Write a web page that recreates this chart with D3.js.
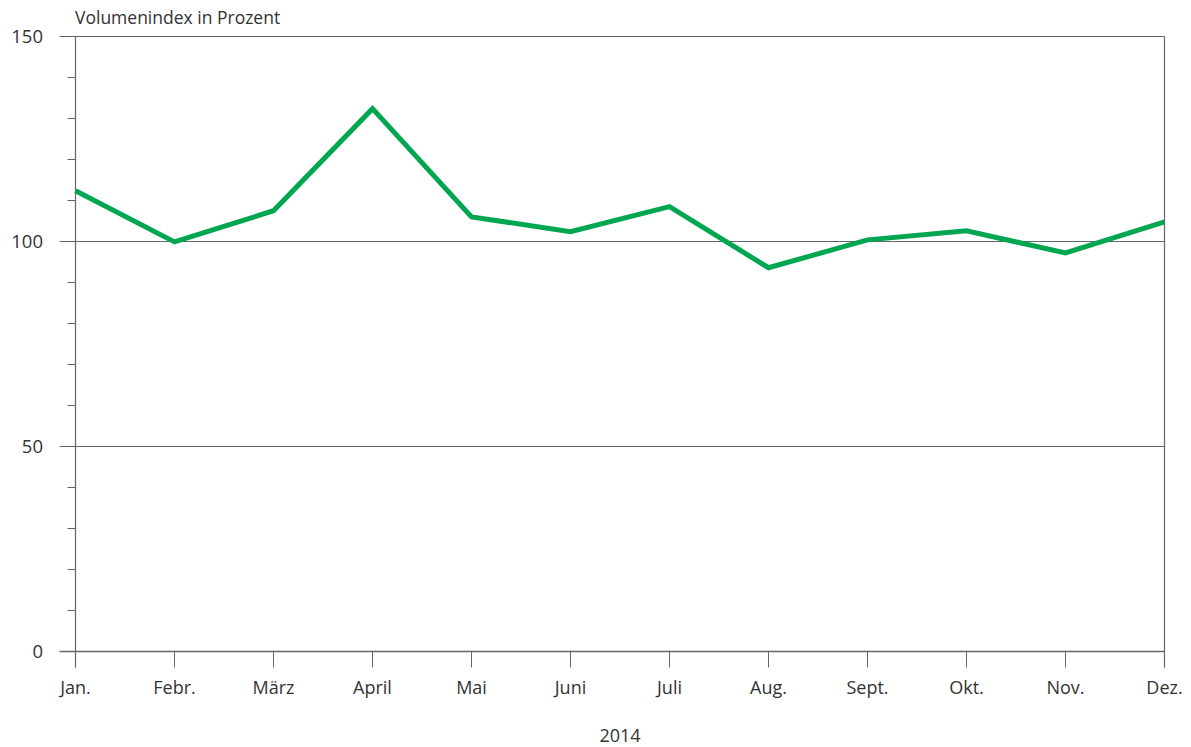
<!DOCTYPE html>
<html><head><meta charset="utf-8">
<script src="https://cdn.jsdelivr.net/npm/d3@7"></script>
<style>
body{margin:0;background:#fff;}
svg text{font-family:"Open Sans","Lato",sans-serif;fill:#333;}
</style></head>
<body><svg id="chart" width="1191" height="747"></svg>
<script>
const months = ["Jan.","Febr.","März","April","Mai","Juni","Juli","Aug.","Sept.","Okt.","Nov.","Dez."];
const values = [112.4, 99.9, 107.5, 132.4, 106.0, 102.4, 108.5, 93.6, 100.4, 102.6, 97.2, 104.8];
const majorTicks = [0, 50, 100, 150];
const minorTicks = [10,20,30,40,60,70,80,90,110,120,130,140];
const yTitle = "Volumenindex in Prozent", xTitle = "2014";

const svg = d3.select("#chart");
const m = {l:75.5, r:1164.5, t:36.5, b:651.5};
const x = d3.scalePoint().domain(months).range([m.l, m.r]);
const y = d3.scaleLinear().domain([0,150]).range([m.b, m.t]);
const axisCol = "#666";

// grid lines at major ticks
svg.append("g").selectAll("line").data(majorTicks).join("line")
  .attr("x1", m.l-16).attr("x2", m.r).attr("y1", d=>y(d)).attr("y2", d=>y(d))
  .attr("stroke", axisCol).attr("stroke-width", d=>d===0?1.6:1);
svg.append("g").selectAll("line").data(minorTicks).join("line")
  .attr("x1", m.l-8).attr("x2", m.l).attr("y1", d=>y(d)).attr("y2", d=>y(d))
  .attr("stroke", axisCol).attr("stroke-width", 1);
// left and right borders
svg.append("line").attr("x1",m.l).attr("x2",m.l).attr("y1",m.t).attr("y2",m.b+16).attr("stroke",axisCol).attr("stroke-width",1.2);
svg.append("line").attr("x1",m.r).attr("x2",m.r).attr("y1",m.t).attr("y2",m.b+16).attr("stroke",axisCol).attr("stroke-width",1.2);
// x ticks
svg.append("g").selectAll("line").data(months).join("line")
  .attr("x1", d=>x(d)).attr("x2", d=>x(d)).attr("y1", m.b).attr("y2", m.b+16)
  .attr("stroke", axisCol).attr("stroke-width", 1);
svg.append("g").selectAll("text").data(months).join("text")
  .attr("x", d=>x(d)).attr("y", 694).attr("text-anchor","middle")
  .attr("font-size", 18).text(d=>d);
svg.append("g").selectAll("text").data(majorTicks).join("text")
  .attr("x", 43).attr("y", d=>y(d)+6).attr("text-anchor","end")
  .attr("font-size", 18.5).text(d=>d);

svg.append("text").attr("x", 75).attr("y", 24).attr("font-size", 17.5).text(yTitle);
svg.append("text").attr("x", 620).attr("y", 742).attr("text-anchor","middle").attr("font-size", 18).text(xTitle);

const line = d3.line().x((d,i)=>x(months[i])).y(d=>y(d));
svg.append("path").datum(values).attr("d", line)
  .attr("fill","none").attr("stroke","#00a650").attr("stroke-width",5)
  .attr("stroke-linejoin","miter");
</script></body></html>
